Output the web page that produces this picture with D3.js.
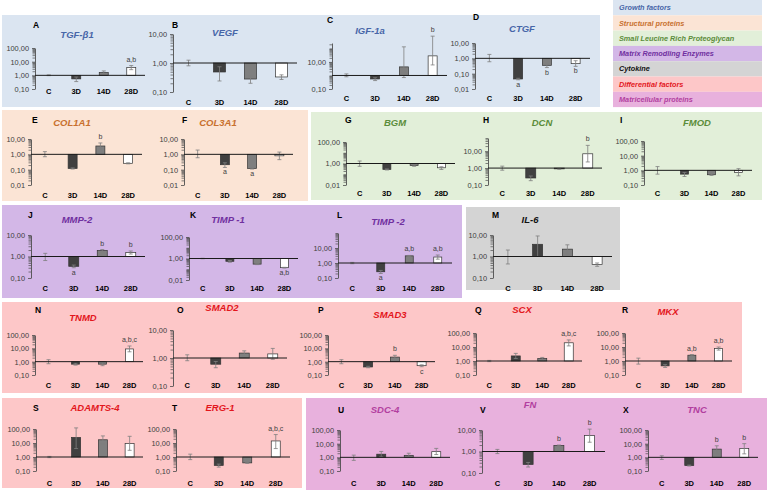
<!DOCTYPE html>
<html>
<head>
<meta charset="utf-8">
<script src="https://cdn.jsdelivr.net/npm/d3@7"></script>
<style>
  body { margin: 0; background: #fff; }
  svg { display: block; }
  text { font-family: "Liberation Sans", Arial, sans-serif; }
</style>
</head>
<body>
<div id="fig"></div>
<script>
// ---- datos ----
const timePoints = ["C", "3D", "14D", "28D"]

const groupNames = ["Growth factors", "Structural proteins", "Small Leucine Rich Proteoglycan",
  "Matrix Remodling Enzymes", "Cytokine", "Differential factors", "Matricellular proteins"]

const panelLetters = ["A", "B", "C", "D", "E", "F", "G", "H", "I", "J", "K", "L",
  "M", "N", "O", "P", "Q", "R", "S", "T", "U", "V", "X"]

const genes = ["TGF-β1", "VEGF", "IGF-1a", "CTGF", "COL1A1", "COL3A1", "BGM", "DCN", "FMOD",
  "MMP-2", "TIMP -1", "TIMP -2", "IL-6", "TNMD", "SMAD2", "SMAD3", "SCX", "MKX",
  "ADAMTS-4", "ERG-1", "SDC-4", "FN", "TNC"]

const geneGroup = [0, 0, 0, 0, 1, 1, 2, 2, 2, 3, 3, 3, 4, 5, 5, 5, 5, 5, 5, 5, 6, 6, 6]

// media (fold change) para C, 3D, 14D, 28D
const foldChange = [
  [1, 0.55, 1.6, 3.8], [1, 0.49, 0.28, 0.33], [1, 0.55, 4.3, 28], [1, 0.045, 0.35, 0.45],
  [1, 0.12, 3.5, 0.26], [1, 0.21, 0.12, 0.8],
  [1, 0.28, 0.65, 0.4], [1, 0.26, 0.9, 7], [1, 0.55, 0.5, 0.7],
  [1, 0.35, 1.9, 1.55], [1, 0.55, 0.3, 0.14], [1, 0.26, 3, 2.5],
  [1, 3.7, 2.2, 0.42],
  [1, 0.65, 0.65, 9], [1, 0.6, 1.5, 1.4], [1, 0.4, 2.2, 0.5], [1, 2.3, 1.5, 20], [1, 0.45, 2.6, 8],
  [1, 25, 17, 9], [1, 0.25, 0.38, 14],
  [1, 1.7, 1.4, 2.6], [1, 0.25, 1.9, 5.5], [1, 0.25, 4, 4.5]
]

// extremos de las barras de error
const errLow = [
  [0.95, 0.35, 1.2, 2.6], [0.8, 0.24, 0.2, 0.27], [0.8, 0.42, 0.7, 6], [0.6, 0.04, 0.25, 0.3],
  [0.7, 0.11, 2.2, 0.24], [0.6, 0.14, 0.11, 0.45],
  [0.55, 0.25, 0.55, 0.28], [0.75, 0.18, 0.85, 2.3], [0.55, 0.38, 0.45, 0.42],
  [0.65, 0.3, 1.7, 1.3], [0.95, 0.45, 0.27, 0.13], [0.9, 0.2, 2.8, 1.8],
  [0.45, 1, 1.3, 0.35],
  [0.7, 0.55, 0.5, 5.5], [0.8, 0.45, 1.2, 0.9], [0.7, 0.35, 1.5, 0.42], [0.9, 1.5, 1.2, 12], [0.6, 0.35, 2.3, 6],
  [0.9, 4, 8, 3], [0.65, 0.19, 0.35, 4],
  [0.6, 1.1, 1.1, 1.6], [0.8, 0.19, 1.8, 2.7], [0.7, 0.23, 1.8, 1.8]
]
const errHigh = [
  [1.08, 0.75, 2.1, 5.2], [1.25, 0.74, 0.36, 0.39], [1.3, 0.68, 130, 800], [1.8, 0.05, 0.45, 0.7],
  [1.5, 0.13, 5.5, 0.28], [1.9, 0.28, 0.13, 1.4],
  [1.7, 0.31, 0.75, 0.5], [1.3, 0.34, 0.95, 22], [1.8, 0.72, 0.55, 1.3],
  [1.4, 0.4, 2.1, 1.8], [1.05, 0.65, 0.33, 0.15], [1.1, 0.32, 3.2, 3.4],
  [2.0, 9, 3.5, 0.5],
  [1.4, 0.75, 0.8, 15], [1.3, 0.75, 1.8, 2.2], [1.4, 0.45, 3, 0.58], [1.1, 3.5, 1.8, 32], [1.6, 0.55, 2.9, 10],
  [1.1, 120, 32, 30], [1.6, 0.31, 0.41, 40],
  [1.45, 2.7, 2, 4.5], [1.25, 0.31, 2, 11], [1.3, 0.27, 7, 10]
]

const sigLetters = [
  ["", "", "", "a,b"], ["", "", "", ""], ["", "", "", "b"], ["", "a", "b", "b"],
  ["", "", "b", ""], ["", "a", "a", ""],
  ["", "", "", ""], ["", "", "", "b"], ["", "", "", ""],
  ["", "a", "b", "b"], ["", "", "", "a,b"], ["", "a", "a,b", "a,b"],
  ["", "", "", ""],
  ["", "", "", "a,b,c"], ["", "", "", ""], ["", "", "b", "c"], ["", "", "", "a,b,c"], ["", "", "a,b", "a,b"],
  ["", "", "", ""], ["", "", "", "a,b,c"],
  ["", "", "", ""], ["", "", "b", "b"], ["", "", "b", "b"]
]

// rango del eje y y etiquetas de cada panel
const yDomains = [
  [0.1, 100], [0.1, 10], [0.1, 250], [0.01, 10],
  [0.01, 10], [0.01, 10],
  [0.01, 100], [0.1, 60], [0.1, 100],
  [0.1, 10], [0.01, 100], [0.1, 100],
  [0.1, 10],
  [0.1, 100], [0.1, 10], [0.1, 100], [0.1, 100], [0.1, 100],
  [0.1, 100], [0.1, 100],
  [0.1, 100], [0.1, 10], [0.1, 100]
]
const yTickLabels = [
  [100, 10, 1, 0.1], [10, 1, 0.1], [10, 0.1], [10, 1, 0.1, 0.01],
  [10, 1, 0.1, 0.01], [10, 1, 0.1, 0.01],
  [100, 1, 0.01], [10, 1, 0.1], [100, 10, 1, 0.1],
  [10, 1, 0.1], [100, 1, 0.01], [10, 1, 0.1],
  [10, 1, 0.1],
  [100, 10, 1, 0.1], [10, 1, 0.1], [100, 10, 1, 0.1], [100, 10, 1, 0.1], [100, 10, 1, 0.1],
  [100, 10, 1, 0.1], [100, 10, 1, 0.1],
  [100, 10, 1, 0.1], [10, 1, 0.1], [100, 10, 1, 0.1]
]

// ---- estilos y disposición ----
const groupFill = ["#dbe5f1", "#fbe4d5", "#e2efd9", "#d3b7e7", "#d4d4d4", "#fdc7c8", "#e8b1dd"]
const groupText = ["#4766a8", "#c8702e", "#5b8c3a", "#7030a0", "#111111", "#e3161c", "#b23f9f"]
const barFill = ["#ffffff", "#404040", "#7f7f7f", "#ffffff"]

const groupBoxes = [
  { g: 0, x: 2, y: 15, w: 598, h: 92 },
  { g: 1, x: 2, y: 110, w: 306, h: 91 },
  { g: 2, x: 311, y: 112, w: 451, h: 88 },
  { g: 3, x: 2, y: 205, w: 460, h: 93 },
  { g: 4, x: 466, y: 207, w: 154, h: 83 },
  { g: 5, x: 2, y: 302, w: 740, h: 91 },
  { g: 5, x: 2, y: 398, w: 300, h: 90 },
  { g: 6, x: 306, y: 398, w: 461, h: 92 }
]

// ax: eje y, bx: fin de la línea base, yt/yb: píxel del máximo/mínimo del dominio
const panelLayout = [
  { ax: 35, bx: 145, yt: 48, yb: 89, bw: 9, lx: 33, ly: 25, tx: 77, ty: 35, xly: 91 },
  { ax: 173, bx: 297, yt: 34, yb: 92, bw: 12, lx: 172, ly: 25, tx: 225, ty: 33, xly: 102 },
  { ax: 332, bx: 447, yt: 43, yb: 89, bw: 9, lx: 327, ly: 20, tx: 370, ty: 31, xly: 98 },
  { ax: 475, bx: 590, yt: 43, yb: 89, bw: 9, lx: 473, ly: 17, tx: 522, ty: 29, xly: 98 },
  { ax: 31, bx: 142, yt: 139, yb: 185, bw: 9, lx: 32, ly: 120, tx: 72, ty: 123, xly: 195 },
  { ax: 184, bx: 293, yt: 139, yb: 185, bw: 9, lx: 182, ly: 120, tx: 218, ty: 123, xly: 195 },
  { ax: 346, bx: 455, yt: 142, yb: 185, bw: 8, lx: 345, ly: 120, tx: 395, ty: 123, xly: 193 },
  { ax: 488, bx: 602, yt: 138, yb: 185, bw: 10, lx: 483, ly: 120, tx: 542, ty: 123, xly: 193 },
  { ax: 644, bx: 752, yt: 141, yb: 185, bw: 8, lx: 620, ly: 120, tx: 697, ty: 123, xly: 193 },
  { ax: 31, bx: 145, yt: 235, yb: 278, bw: 10, lx: 28, ly: 215, tx: 77, ty: 220, xly: 288 },
  { ax: 189, bx: 298, yt: 237, yb: 280, bw: 8, lx: 190, ly: 215, tx: 228, ty: 220, xly: 288 },
  { ax: 338, bx: 452, yt: 233, yb: 278, bw: 8, lx: 337, ly: 215, tx: 388, ty: 222, xly: 288 },
  { ax: 493, bx: 612, yt: 235, yb: 278, bw: 10, lx: 492, ly: 215, tx: 530, ty: 220, xly: 288 },
  { ax: 35, bx: 143, yt: 335, yb: 375, bw: 8, lx: 35, ly: 310, tx: 83, ty: 318, xly: 385 },
  { ax: 173, bx: 287, yt: 330, yb: 386, bw: 10, lx: 177, ly: 310, tx: 222, ty: 308, xly: 385 },
  { ax: 328, bx: 435, yt: 335, yb: 375, bw: 9, lx: 318, ly: 310, tx: 390, ty: 315, xly: 385 },
  { ax: 476, bx: 582, yt: 333, yb: 375, bw: 9, lx: 475, ly: 310, tx: 522, ty: 310, xly: 385 },
  { ax: 625, bx: 732, yt: 333, yb: 375, bw: 8, lx: 622, ly: 310, tx: 668, ty: 312, xly: 385 },
  { ax: 36, bx: 143, yt: 429, yb: 471, bw: 9, lx: 33, ly: 408, tx: 95, ty: 408, xly: 483 },
  { ax: 176, bx: 290, yt: 429, yb: 471, bw: 9, lx: 172, ly: 408, tx: 220, ty: 408, xly: 483 },
  { ax: 340, bx: 450, yt: 430, yb: 471, bw: 9, lx: 338, ly: 410, tx: 385, ty: 410, xly: 483 },
  { ax: 482, bx: 605, yt: 430, yb: 473, bw: 10, lx: 480, ly: 410, tx: 530, ty: 405, xly: 483 },
  { ax: 648, bx: 758, yt: 430, yb: 471, bw: 9, lx: 623, ly: 410, tx: 697, ty: 410, xly: 483 }
]

const fmt = d => d3.format(".2f")(d).replace(".", ",")

// ---- dibujo ----
const svg = d3.select("#fig")
  .append("svg")
    .attr("width", 767)
    .attr("height", 490)

svg.append("rect").attr("width", 767).attr("height", 490).attr("fill", "#fff")

// cajas de fondo por grupo
svg.append("g")
  .selectAll("rect")
  .data(groupBoxes)
  .join("rect")
    .attr("x", d => d.x)
    .attr("y", d => d.y)
    .attr("width", d => d.w)
    .attr("height", d => d.h)
    .attr("fill", d => groupFill[d.g])

// leyenda
const legend = svg.append("g")
const bandH = 15.3
legend.selectAll("rect")
  .data(groupNames)
  .join("rect")
    .attr("x", 613)
    .attr("y", (_, i) => i * bandH)
    .attr("width", 149)
    .attr("height", bandH)
    .attr("fill", (_, i) => groupFill[i])
legend.selectAll("text")
  .data(groupNames)
  .join("text")
    .attr("x", 619)
    .attr("y", (_, i) => i * bandH + bandH / 2)
    .attr("dy", "0.35em")
    .attr("font-size", 7.3)
    .attr("font-weight", "bold")
    .attr("font-style", "italic")
    .attr("fill", (_, i) => groupText[i])
    .text(d => d)

// paneles
genes.forEach((gene, i) => {
  const L = panelLayout[i]
  const g = svg.append("g")

  const y = d3.scaleLog().domain(yDomains[i]).range([L.yb, L.yt])
  const x = d3.scaleBand().domain(timePoints).range([L.ax, L.bx])

  // letra del panel y título
  g.append("text")
    .attr("x", L.lx).attr("y", L.ly).attr("dy", "0.35em")
    .attr("font-family", "'Liberation Serif', 'DejaVu Serif', serif")
    .attr("font-weight", "bold").attr("font-size", 8.5)
    .text(panelLetters[i])
  g.append("text")
    .attr("x", L.tx).attr("y", L.ty).attr("dy", "0.35em")
    .attr("text-anchor", "middle")
    .attr("font-weight", "bold").attr("font-style", "italic").attr("font-size", 9.5)
    .attr("fill", groupText[geneGroup[i]])
    .text(gene)

  // eje y: marcas menores y etiquetas
  const labels = yTickLabels[i]
  const minor = y.ticks().filter(t => !labels.some(l => Math.abs(l - t) < 1e-9))
  g.append("g")
    .attr("transform", `translate(${L.ax},0)`)
    .call(d3.axisLeft(y).tickValues(minor).tickSize(2.5).tickFormat(""))
    .call(a => a.select(".domain").remove())
    .call(a => a.selectAll("line").attr("stroke", "#4d4d4d").attr("stroke-width", 0.7))
  g.append("g")
    .attr("transform", `translate(${L.ax},0)`)
    .call(d3.axisLeft(y).tickValues(labels).tickSize(3).tickSizeOuter(0).tickFormat(fmt))
    .call(a => a.select(".domain").attr("stroke", "#4d4d4d").attr("stroke-width", 0.9))
    .call(a => a.selectAll("line").attr("stroke", "#4d4d4d").attr("stroke-width", 0.8))
    .call(a => a.selectAll("text")
      .attr("font-size", 7.4).attr("fill", "#404040")
      .attr("font-family", "'Liberation Sans', Arial, sans-serif"))

  const rows = timePoints.map((t, j) => ({
    t, j, v: foldChange[i][j], lo: errLow[i][j], hi: errHigh[i][j], s: sigLetters[i][j]
  }))

  // barras desde 1
  g.append("g")
    .selectAll("rect")
    .data(rows.filter(d => d.v !== 1))
    .join("rect")
      .attr("x", d => x(d.t) + (x.bandwidth() - L.bw) / 2)
      .attr("y", d => Math.min(y(d.v), y(1)))
      .attr("width", L.bw)
      .attr("height", d => Math.abs(y(d.v) - y(1)))
      .attr("fill", d => barFill[d.j])
      .attr("stroke", "#333")
      .attr("stroke-width", 0.7)

  // barras de error
  const err = g.append("g").attr("stroke", "#7f7f7f").attr("stroke-width", 0.8)
  rows.forEach(d => {
    const cx = x(d.t) + x.bandwidth() / 2
    err.append("line").attr("x1", cx).attr("x2", cx).attr("y1", y(d.lo)).attr("y2", y(d.hi))
    err.append("line").attr("x1", cx - 2).attr("x2", cx + 2).attr("y1", y(d.lo)).attr("y2", y(d.lo))
    err.append("line").attr("x1", cx - 2).attr("x2", cx + 2).attr("y1", y(d.hi)).attr("y2", y(d.hi))
  })

  // línea base en 1
  g.append("line")
    .attr("x1", L.ax).attr("x2", L.bx)
    .attr("y1", y(1)).attr("y2", y(1))
    .attr("stroke", "#1a1a1a").attr("stroke-width", 1)

  // letras de significancia
  g.append("g")
    .selectAll("text")
    .data(rows.filter(d => d.s))
    .join("text")
      .attr("x", d => x(d.t) + x.bandwidth() / 2)
      .attr("y", d => d.v >= 1 ? y(d.hi) - 4 : y(d.lo) + 7)
      .attr("text-anchor", "middle")
      .attr("font-size", 7)
      .attr("fill", "#404040")
      .text(d => d.s)

  // etiquetas del eje x
  g.append("g")
    .selectAll("text")
    .data(timePoints)
    .join("text")
      .attr("x", d => x(d) + x.bandwidth() / 2)
      .attr("y", L.xly)
      .attr("dy", "0.35em")
      .attr("text-anchor", "middle")
      .attr("font-size", 7.5)
      .attr("font-weight", "bold")
      .text(d => d)
})
</script>
</body>
</html>
